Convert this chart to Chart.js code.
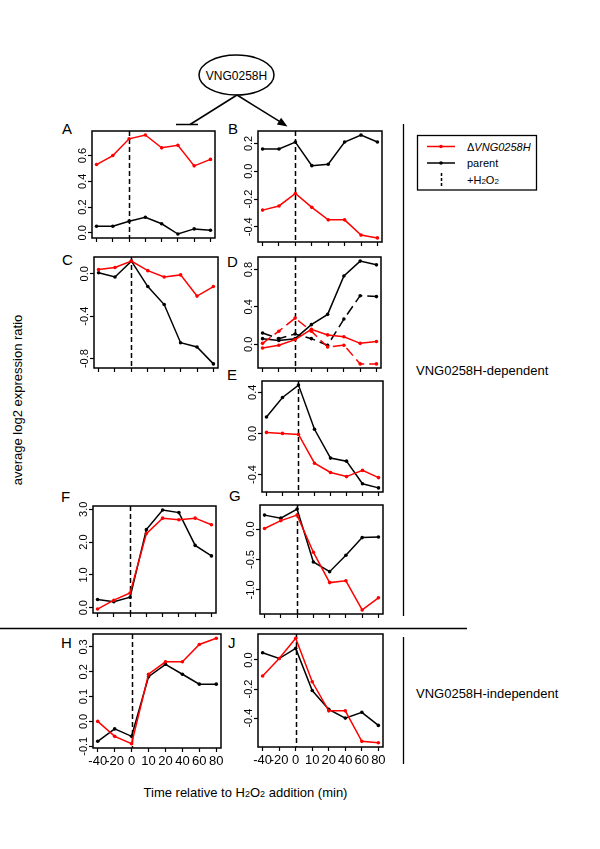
<!DOCTYPE html>
<html>
<head>
<meta charset="utf-8">
<script src="https://cdn.jsdelivr.net/npm/chart.js@4"></script>
<style>
  body { margin: 0; background: #fff; width: 600px; height: 849px; position: relative; overflow: hidden; font-family: "Liberation Sans", Arial, sans-serif; }
  svg { position: absolute; left: 0; top: 0; }
  canvas { position: absolute; }
</style>
</head>
<body>
<svg width="600" height="849" font-family="Liberation Sans, Arial, sans-serif">
  <!-- regulator diagram -->
  <ellipse cx="236.5" cy="75" rx="37.5" ry="20" fill="none" stroke="#000" stroke-width="1.5"/>
  <text x="236.5" y="79.5" font-size="12" text-anchor="middle">VNG0258H</text>
  <line x1="237" y1="95" x2="190" y2="124.5" stroke="#000" stroke-width="1.5"/>
  <line x1="176" y1="124.5" x2="198" y2="124.5" stroke="#000" stroke-width="1.5"/>
  <line x1="237" y1="95" x2="279.5" y2="121.3" stroke="#000" stroke-width="1.5"/>
  <polygon points="287.5,126.5 276.9,124.6 281.1,117.8" fill="#000"/>

  <!-- panel letters -->
  <g font-size="15">
    <text x="62" y="133.5">A</text>
    <text x="228" y="134">B</text>
    <text x="62" y="265">C</text>
    <text x="227" y="266.5">D</text>
    <text x="227" y="380">E</text>
    <text x="61" y="502">F</text>
    <text x="229" y="501">G</text>
    <text x="61" y="648">H</text>
    <text x="228" y="648">J</text>
  </g>

  <!-- axis titles -->
  <text transform="translate(22,400) rotate(-90)" font-size="13" text-anchor="middle">average log2 expression ratio</text>
  <text x="245.5" y="797" font-size="13" text-anchor="middle">Time relative to H<tspan font-size="9">2</tspan>O<tspan font-size="9">2</tspan> addition (min)</text>

  <!-- group separators -->
  <line x1="403.5" y1="124" x2="403.5" y2="616" stroke="#000" stroke-width="1.3"/>
  <line x1="403.5" y1="637" x2="403.5" y2="764" stroke="#000" stroke-width="1.3"/>
  <line x1="0" y1="628.5" x2="467" y2="628.5" stroke="#000" stroke-width="1.3"/>
  <text x="416" y="375" font-size="13">VNG0258H-dependent</text>
  <text x="416" y="698" font-size="13">VNG0258H-independent</text>

  <!-- legend -->
  <rect x="417.5" y="135.5" width="119" height="54.5" fill="none" stroke="#000" stroke-width="1.3"/>
  <line x1="427" y1="146.5" x2="455" y2="146.5" stroke="#ff0000" stroke-width="1.5"/>
  <circle cx="441" cy="146.5" r="1.8" fill="#ff0000"/>
  <line x1="427" y1="163" x2="455" y2="163" stroke="#000" stroke-width="1.5"/>
  <circle cx="441" cy="163" r="1.8" fill="#000"/>
  <line x1="441.5" y1="173" x2="441.5" y2="186" stroke="#000" stroke-width="1.5" stroke-dasharray="3,2"/>
  <g font-size="11">
    <text x="467" y="150.5">&#916;<tspan font-style="italic">VNG0258H</tspan></text>
    <text x="467" y="167">parent</text>
    <text x="467" y="183.5">+H<tspan font-size="8">2</tspan>O<tspan font-size="8">2</tspan></text>
  </g>
</svg>

<script>
// sampling times (minutes relative to H2O2 addition)
const timeLabels = ["-40", "-20", "0", "10", "20", "40", "60", "80"];

// A
const aMutant = [0.53, 0.60, 0.73, 0.76, 0.66, 0.68, 0.52, 0.57];
const aParent = [0.05, 0.05, 0.09, 0.12, 0.07, -0.01, 0.03, 0.02];
const aTicks = [0, 0.2, 0.4, 0.6];
// B
const bMutant = [-0.28, -0.25, -0.16, -0.26, -0.35, -0.35, -0.46, -0.48];
const bParent = [0.16, 0.16, 0.21, 0.04, 0.05, 0.21, 0.26, 0.21];
const bTicks = [-0.4, -0.2, 0, 0.2];
// C
const cMutant = [0.04, 0.06, 0.12, 0.03, -0.03, -0.01, -0.21, -0.12];
const cParent = [0.01, -0.03, 0.12, -0.12, -0.29, -0.65, -0.69, -0.85];
const cTicks = [-0.8, -0.4, 0];
// D (two genes: solid and dashed)
const dMutant = [-0.04, -0.01, 0.05, 0.16, 0.10, 0.08, 0.01, 0.03];
const dParent = [0.06, 0.04, 0.06, 0.21, 0.32, 0.73, 0.89, 0.85];
const dMutant2 = [0.01, 0.14, 0.28, 0.14, -0.03, -0.01, -0.21, -0.21];
const dParent2 = [0.12, 0.06, 0.11, 0.06, -0.01, 0.27, 0.52, 0.51];
const dTicks = [0, 0.4, 0.8];
// E
const eMutant = [0.01, 0.00, -0.01, -0.29, -0.38, -0.42, -0.36, -0.43];
const eParent = [0.16, 0.35, 0.47, 0.04, -0.24, -0.27, -0.49, -0.53];
const eTicks = [-0.4, 0, 0.4];
// F
const fMutant = [-0.04, 0.23, 0.45, 2.26, 2.73, 2.68, 2.73, 2.53];
const fParent = [0.25, 0.18, 0.32, 2.38, 2.98, 2.90, 1.90, 1.58];
const fTicks = [0, 1, 2, 3];
// G
const gMutant = [0.01, 0.14, 0.23, -0.38, -0.88, -0.85, -1.33, -1.13];
const gParent = [0.23, 0.18, 0.33, -0.54, -0.70, -0.43, -0.14, -0.13];
const gTicks = [-1, -0.5, 0];
// H
const hMutant = [0.00, -0.06, -0.09, 0.19, 0.24, 0.24, 0.31, 0.335];
const hParent = [-0.08, -0.03, -0.06, 0.18, 0.23, 0.19, 0.15, 0.15];
const hTicks = [-0.1, 0, 0.1, 0.2, 0.3];
// J
const jMutant = [-0.11, 0.01, 0.15, -0.15, -0.35, -0.35, -0.56, -0.57];
const jParent = [0.05, 0.01, 0.08, -0.21, -0.34, -0.40, -0.36, -0.45];
const jTicks = [-0.4, -0.2, 0];

const RED = "#ff0000";
const BLACK = "#000000";
const FONT = '"Liberation Sans", Arial, sans-serif';

// plot box of every panel: left, top, right, bottom
const panels = [
  { box: [92, 131, 215, 238], ticks: aTicks, series: [[aParent, BLACK], [aMutant, RED]] },
  { box: [258, 131, 382, 242], ticks: bTicks, series: [[bParent, BLACK], [bMutant, RED]] },
  { box: [94, 257, 218, 368], ticks: cTicks, series: [[cParent, BLACK], [cMutant, RED]] },
  { box: [258, 257, 381, 368], ticks: dTicks, series: [[dParent, BLACK], [dParent2, BLACK, true], [dMutant, RED], [dMutant2, RED, true]] },
  { box: [262, 381, 383, 492], ticks: eTicks, series: [[eParent, BLACK], [eMutant, RED]] },
  { box: [93, 506, 216, 613], ticks: fTicks, series: [[fParent, BLACK], [fMutant, RED]] },
  { box: [260, 505, 383, 614], ticks: gTicks, series: [[gParent, BLACK], [gMutant, RED]] },
  { box: [93, 634, 221, 748], ticks: hTicks, series: [[hParent, BLACK], [hMutant, RED]], timeAxis: true },
  { box: [258, 634, 383, 747], ticks: jTicks, series: [[jParent, BLACK], [jMutant, RED]], timeAxis: true }
];

const PAD = { left: 34, right: 6, top: 6, bottom: 26 };

const framePlugin = {
  id: "frame",
  beforeDatasetsDraw(chart) {
    const { ctx, chartArea: a, scales: { x } } = chart;
    const x0 = Math.round(x.getPixelForValue(timeLabels.indexOf("0"))) + 0.5;
    ctx.save();
    ctx.strokeStyle = BLACK;
    ctx.lineWidth = 1.5;
    ctx.setLineDash([5, 3]);
    ctx.beginPath();
    ctx.moveTo(x0, a.top);
    ctx.lineTo(x0, a.bottom);
    ctx.stroke();
    ctx.restore();
  },
  afterDraw(chart, args, opts) {
    const { ctx, chartArea: a, scales: { x, y } } = chart;
    ctx.save();
    ctx.strokeStyle = BLACK;
    ctx.lineWidth = 1.5;
    ctx.strokeRect(a.left, a.top, a.right - a.left, a.bottom - a.top);

    ctx.fillStyle = BLACK;
    ctx.font = "11px " + FONT;
    ctx.textAlign = "center";
    ctx.textBaseline = "alphabetic";
    y.ticks.forEach(t => {
      ctx.save();
      ctx.translate(a.left - 6, y.getPixelForValue(t.value));
      ctx.rotate(-Math.PI / 2);
      ctx.fillText(t.value.toFixed(1), 0, 0);
      ctx.restore();
    });

    if (opts.timeAxis) {
      ctx.font = "13px " + FONT;
      ctx.textBaseline = "middle";
      x.ticks.forEach(t => {
        ctx.fillText(timeLabels[t.value], x.getPixelForValue(t.value), a.bottom + 13);
      });
    }
    ctx.restore();
  }
};

panels.forEach(p => {
  const [l, t, r, b] = p.box;
  const cv = document.createElement("canvas");
  cv.width = r - l + PAD.left + PAD.right;
  cv.height = b - t + PAD.top + PAD.bottom;
  cv.style.left = (l - PAD.left) + "px";
  cv.style.top = (t - PAD.top) + "px";
  document.body.appendChild(cv);

  // R-style axis range: data range widened by 4% each side
  const all = p.series.flatMap(s => s[0]);
  const lo = Math.min(...all), hi = Math.max(...all);
  const ext = (hi - lo) * 0.04;
  const xExt = (timeLabels.length - 1) * 0.04;

  new Chart(cv, {
    type: "line",
    data: {
      datasets: p.series.map(([vals, color, dashed], i) => ({
        data: vals.map((v, k) => ({ x: k, y: v })),
        borderColor: color,
        backgroundColor: color,
        borderWidth: 1.5,
        borderDash: dashed ? [10, 5] : [],
        pointRadius: 1.8,
        pointBorderWidth: 0,
        pointBackgroundColor: color,
        tension: 0,
        order: p.series.length - i
      }))
    },
    options: {
      responsive: false,
      animation: false,
      devicePixelRatio: 1,
      layout: { padding: PAD },
      plugins: {
        legend: { display: false },
        tooltip: { enabled: false },
        frame: { timeAxis: !!p.timeAxis }
      },
      scales: {
        x: {
          type: "linear",
          min: -xExt,
          max: timeLabels.length - 1 + xExt,
          afterBuildTicks: s => { s.ticks = timeLabels.map((_, k) => ({ value: k })); },
          afterFit: s => { s.height = 0; },
          ticks: { display: false },
          border: { display: false },
          grid: { drawOnChartArea: false, drawTicks: true, tickLength: 4, tickWidth: 1.2, tickColor: BLACK }
        },
        y: {
          type: "linear",
          min: lo - ext,
          max: hi + ext,
          afterBuildTicks: s => { s.ticks = p.ticks.map(v => ({ value: v })); },
          afterFit: s => { s.width = 0; },
          ticks: { display: false },
          border: { display: false },
          grid: { drawOnChartArea: false, drawTicks: true, tickLength: 4, tickWidth: 1.2, tickColor: BLACK }
        }
      }
    },
    plugins: [framePlugin]
  });
});
</script>
</body>
</html>
